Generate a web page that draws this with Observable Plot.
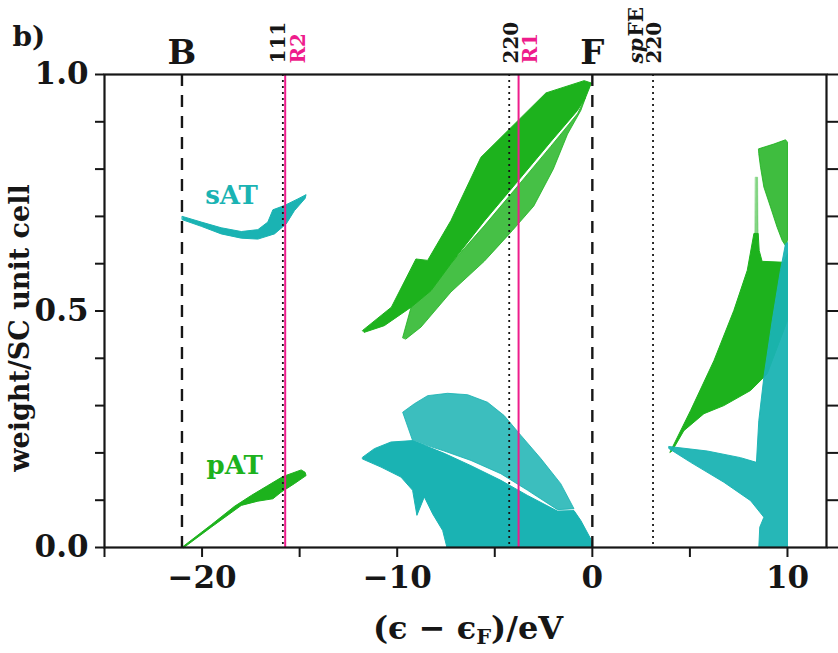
<!DOCTYPE html>
<html><head><meta charset="utf-8">
<script src="https://cdn.jsdelivr.net/npm/d3@7"></script>
<script src="https://cdn.jsdelivr.net/npm/@observablehq/plot@0.6"></script>
<style>body{margin:0;background:#fff} #chart{width:838px;height:653px}</style>
</head><body><div id="chart"></div>
<script>
// ---- axis ticks ----
const xTicks = [-25, -20, -15, -10, -5, 0, 5, 10];
const xTickLabels = ["", "−20", "", "−10", "", "0", "", "10"];
const yTicks = [0, 0.1, 0.2, 0.3, 0.4, 0.5, 0.6, 0.7, 0.8, 0.9, 1.0];
const yTickLabels = ["0.0", "", "", "", "", "0.5", "", "", "", "", "1.0"];

// ---- reference lines (eV) ----
const dashedLines = [-21.03, 0];          // B, F
const dottedLines = [-15.86, -4.26, 3.11]; // 111, 220, spFE 220
const magentaLines = [-15.74, -3.78];      // R2, R1

// ---- labels ----
const topLabels = ["B", "F"];
const topLabelX = [-21.03, 0];
const blackRotLabels = ["111", "220", "220"];
const blackRotX = [-15.73, -3.83, 3.50];
const magentaRotLabels = ["R2", "R1"];
const magentaRotX = [-14.70, -2.86];
const spLabelX = [2.58];
const atLabels = ["sAT", "pAT"];
const atLabelX = [-18.49, -18.33];
const atLabelY = [0.727, 0.156];

// ---- band outlines (energy eV, weight) ----
const sATBand = [[-21.01,0.700],[-20.04,0.688],[-19.02,0.676],[-17.99,0.668],[-17.14,0.672],[-16.63,0.688],[-16.37,0.714],[-15.78,0.723],[-15.09,0.737],[-14.67,0.746],[-14.72,0.738],[-15.27,0.712],[-15.69,0.684],[-16.29,0.663],[-17.14,0.652],[-17.99,0.654],[-19.02,0.663],[-20.04,0.679],[-21.01,0.693]];
const pATBand = [[-21.01,0.001],[-19.53,0.048],[-18.34,0.087],[-17.48,0.110],[-16.63,0.131],[-15.86,0.150],[-14.92,0.164],[-14.72,0.159],[-14.67,0.152],[-15.27,0.135],[-15.95,0.117],[-16.37,0.103],[-17.14,0.098],[-17.99,0.089],[-19.53,0.043],[-20.93,0.0]];
const greenUpperBand = [[-11.77,0.459],[-10.30,0.508],[-9.04,0.610],[-8.44,0.607],[-7.25,0.691],[-5.71,0.825],[-2.38,0.961],[-0.42,0.987],[-0.05,0.982],[-0.34,0.952],[-0.76,0.924],[-2.13,0.858],[-3.83,0.774],[-5.54,0.690],[-7.25,0.600],[-8.27,0.543],[-9.29,0.508],[-10.66,0.469],[-11.68,0.455]];
const greenLowerBand = [[-9.72,0.444],[-9.29,0.508],[-8.27,0.543],[-7.25,0.600],[-5.54,0.680],[-3.83,0.764],[-2.13,0.848],[-0.76,0.917],[-0.34,0.952],[-0.59,0.924],[-1.27,0.874],[-2.0,0.800],[-3.0,0.722],[-4.1,0.670],[-5.54,0.605],[-7.25,0.540],[-8.78,0.466],[-9.55,0.441]];
const tealWingBand = [[-9.21,0.226],[-9.72,0.286],[-9.12,0.304],[-8.44,0.321],[-7.42,0.326],[-6.39,0.323],[-5.37,0.307],[-4.52,0.279],[-3.66,0.237],[-2.64,0.188],[-1.62,0.135],[-0.94,0.082],[-1.79,0.080],[-3.32,0.121],[-4.69,0.156],[-6.22,0.184],[-7.59,0.204]];
const tealBodyBand = [[-11.77,0.191],[-11.17,0.209],[-10.32,0.223],[-9.21,0.226],[-7.59,0.199],[-6.22,0.173],[-4.69,0.142],[-3.32,0.110],[-1.79,0.077],[-0.94,0.078],[-0.59,0.057],[-0.08,0.018],[-0.03,0.0],[-7.45,0.0],[-7.67,0.036],[-8.18,0.071],[-8.61,0.107],[-8.99,0.068],[-9.21,0.121],[-9.81,0.149],[-10.83,0.170],[-11.77,0.187]];
const greenRightLower = [[3.98,0.2015],[5.04,0.290],[6.23,0.395],[7.25,0.501],[7.94,0.586],[8.28,0.664],[8.50,0.664],[8.55,0.628],[8.70,0.605],[9.81,0.603],[10.0,0.621],[10.0,0.480],[8.96,0.367],[8.11,0.332],[6.74,0.300],[5.72,0.283],[4.69,0.247],[4.10,0.205]];
const greenRightSpike = [[8.36,0.783],[8.47,0.783],[8.50,0.650],[8.33,0.650]];
const greenRightUpper = [[8.53,0.843],[9.30,0.853],[9.90,0.862],[10.0,0.857],[10.0,0.649],[9.90,0.638],[9.73,0.649],[9.47,0.677],[9.13,0.720],[8.79,0.762],[8.62,0.804],[8.53,0.832]];
const tealRightBand = [[3.93,0.2135],[5.89,0.204],[7.59,0.190],[8.41,0.180],[8.53,0.268],[8.79,0.360],[9.22,0.480],[9.64,0.586],[9.90,0.642],[10.0,0.645],[10.0,0.0],[8.53,0.0],[8.58,0.043],[8.79,0.064],[8.11,0.099],[6.74,0.138],[5.04,0.180],[3.93,0.209]];

const GREEN = "#1db21d", TEAL = "#1ab3b3", MAGENTA = "#ee1c8c", INK = "#161616";

function band(pts, color, op = 1, sw = 1) {
  return Plot.line(pts, {x: d => d[0], y: d => d[1], curve: "linear-closed",
    fill: color, stroke: color, strokeWidth: sw, fillOpacity: op, strokeOpacity: op, strokeLinejoin: "round"});
}

const svg = Plot.plot({
  width: 838, height: 653,
  marginTop: 74, marginBottom: 106, marginLeft: 104, marginRight: 12,
  x: {domain: [-25, 12]},
  y: {domain: [0, 1]},
  style: {fontFamily: "DejaVu Serif", fontWeight: "bold", background: "white", color: INK, overflow: "visible"},
  marks: [
    band(greenUpperBand, GREEN),
    band(greenLowerBand, GREEN, 0.82),
    band(tealBodyBand, TEAL),
    band(tealWingBand, TEAL, 0.85),
    band(sATBand, TEAL),
    band(pATBand, GREEN),
    band(greenRightLower, GREEN),
    band(greenRightSpike, GREEN, 0.55, 0.5),
    band(greenRightUpper, GREEN, 0.85),
    band(tealRightBand, TEAL, 0.95),
    Plot.ruleX(dottedLines, {x: d => d, stroke: INK, strokeWidth: 1.8, strokeDasharray: "2,4"}),
    Plot.ruleX(magentaLines, {x: d => d, stroke: MAGENTA, strokeWidth: 2}),
    Plot.ruleX(dashedLines, {x: d => d, stroke: INK, strokeWidth: 2.4, strokeDasharray: "12,9"}),
    Plot.frame({stroke: INK, strokeWidth: 2.2}),
    Plot.axisX({ticks: xTicks, tickFormat: d => xTickLabels[xTicks.indexOf(d)], tickSize: 10, tickPadding: 8, fontSize: 31, strokeWidth: 2, label: null}),
    Plot.axisY({ticks: yTicks, tickFormat: d => yTickLabels[yTicks.indexOf(d)], tickSize: 9, tickPadding: 7, fontSize: 31, strokeWidth: 2, label: null}),
    Plot.axisY({anchor: "right", ticks: yTicks, tickFormat: () => "", tickSize: 11, strokeWidth: 2, label: null}),
    Plot.text(topLabels, {x: (d, i) => topLabelX[i], text: d => d, frameAnchor: "top", dy: -11, lineAnchor: "bottom", fontSize: 34, fill: INK}),
    Plot.text(blackRotLabels, {x: (d, i) => blackRotX[i], text: d => d, frameAnchor: "top", dy: -11, rotate: -90, textAnchor: "start", lineAnchor: "bottom", fontSize: 20, fill: INK}),
    Plot.text(magentaRotLabels, {x: (d, i) => magentaRotX[i], text: d => d, frameAnchor: "top", dy: -11, rotate: -90, textAnchor: "start", lineAnchor: "bottom", fontSize: 20, fill: MAGENTA}),
    Plot.text(["sp"], {x: (d, i) => spLabelX[i], text: d => d, frameAnchor: "top", dy: -11, rotate: -90, textAnchor: "start", lineAnchor: "bottom", fontSize: 20, fontStyle: "italic", fill: INK}),
    Plot.text(["FE"], {x: (d, i) => spLabelX[i], text: d => d, frameAnchor: "top", dy: -38, rotate: -90, textAnchor: "start", lineAnchor: "bottom", fontSize: 20, fill: INK}),
    Plot.text([atLabels[0]], {x: () => atLabelX[0], y: () => atLabelY[0], text: d => d, lineAnchor: "bottom", fontSize: 26, fill: TEAL}),
    Plot.text([atLabels[1]], {x: () => atLabelX[1], y: () => atLabelY[1], text: d => d, lineAnchor: "bottom", fontSize: 26, fill: GREEN}),
    Plot.text(["b)"], {frameAnchor: "top-left", dx: -92, dy: -29, textAnchor: "start", lineAnchor: "bottom", fontSize: 28, fill: INK}),
    Plot.text(["weight/SC unit cell"], {frameAnchor: "left", dx: -76, dy: 17, rotate: -90, textAnchor: "middle", lineAnchor: "bottom", fontSize: 27, fill: INK})
  ]
});

const t = d3.select(svg).append("text")
  .attr("x", 468).attr("y", 639)
  .attr("text-anchor", "middle")
  .attr("font-family", "DejaVu Serif").attr("font-weight", "bold")
  .attr("font-size", 32).attr("fill", INK);
t.append("tspan").text("(ϵ − ϵ");
t.append("tspan").attr("font-size", 21).attr("dy", 5).text("F");
t.append("tspan").attr("dy", -5).text(")/eV");

document.getElementById("chart").appendChild(svg);
</script>
</body></html>
